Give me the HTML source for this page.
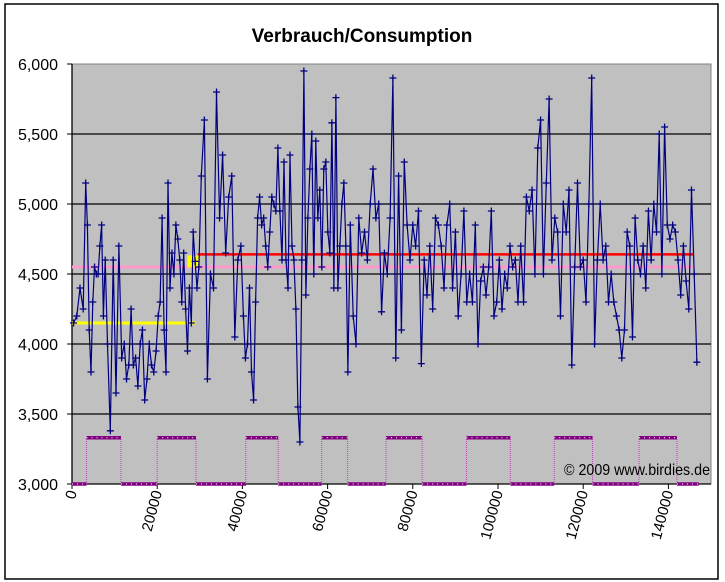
<!DOCTYPE html>
<html><head><meta charset="utf-8"><style>
body{margin:0;background:#fff;}
svg{display:block;font-family:"Liberation Sans",Arial,sans-serif;}
</style></head><body>
<svg id="c" width="725" height="582" xmlns="http://www.w3.org/2000/svg">
<rect x="5" y="4" width="713" height="575" fill="#fff" stroke="#000" stroke-width="1.5"/>
<text x="362" y="42" text-anchor="middle" font-size="19" font-weight="bold">Verbrauch/Consumption</text>
<rect x="72" y="64" width="639" height="420" fill="#c0c0c0" stroke="#808080" stroke-width="1"/>
<g id="grid"></g><g id="yt"></g><g id="xt"></g><g id="ref"></g><g id="wave"></g><g id="ser"></g>
<text x="710" y="475" text-anchor="end" font-size="16" textLength="146" lengthAdjust="spacingAndGlyphs">© 2009 www.birdies.de</text>
</svg>
<script>
const yTicks=[3000,3500,4000,4500,5000,5500,6000];
const xTicks=[0,20000,40000,60000,80000,100000,120000,140000];
// consumption series: segment ranges (km) and readings
const segStart=[0,3000,8000,12000,20000,26000,30000,40000,50000,57000,65000,75000,85000,95000,105000,115000,125000,135000];
const segEnd=[3000,8000,12000,20000,26000,30000,40000,50000,57000,65000,75000,85000,95000,105000,115000,125000,135000,147000];
const segValues=[
[4150,4200,4400,4250],
[5150,4850,4100,3800,4300,4550,4500,4500,4700,4850,4200,4600],
[4000,3380,4600,3650,4700,3900],
[4000,3750,3850,4250,3850,3900,3700,4000,4100,3600,3750,4000,3850,3800,3950],
[4200,4300,4900,4100,3800,5150,4400,4650,4500,4850,4750,4600,4300],
[4650,4250,3950,4400,4150,4800,4590,4400,4550],
[5200,5600,3750,4500,4400,5800,4900,5350,4650,5050,5200,4050,4600,4700],
[4200,3900,4000,4400,3800,3600,4300,4900,5050,4850,4900,4700,4550,4800,5050,5000,4950,5400,4950,4600,5300],
[4600,4400,5350,4700,4600,4250,3550,3300,4600,5950,4350,4900,5250,5500,4500],
[5450,4900,5100,4550,5250,5300,4800,4650,5580,4400,5760,4400,4700,5000,5150,4700,3800],
[4850,4200,4000,4900,4650,4800,4600,5000,5250,4900,5000,4230,4650,4500,4900],
[5900,3900,5200,4100,5300,4850,4600,4850,4700,4950,3860,4600,4350,4700,4250],
[4900,4850,4700,4400,4850,5000,4400,4800,4200,4500,4950,4300,4500,4300,4850],
[4000,4450,4550,4350,4550,4950,4200,4300,4600,4250,4500,4400,4700,4550,4600,4300],
[4700,4300,5050,4950,5100,4500,5400,5600,4500,5150,5750,4600,4900,4800,4200],
[5000,4800,5100,3850,4550,5150,4550,4600,4300,5000,5900,4000,4600,5000,4600],
[4700,4300,4500,4300,4200,4100,3900,4100,4800,4700,4050,4900,4600,4500,4700,4400],
[4950,4600,5000,4800,5500,4500,5550,4850,4750,4850,4800,4600,4350,4700,4450,4250,5100,4500,3870]
];
// season indicator square wave: change points (km) and levels
const waveX=[0,3400,11500,20000,29100,40800,48400,58600,64700,73700,82200,92600,102900,113200,122200,133100,142000,147100];
const waveLevel=[3000,3330,3000,3330,3000,3330,3000,3330,3000,3330,3000,3330,3000,3330,3000,3330,3000];
// reference lines: [startKm, endKm, value]
const avgWinter=[0,29000,4150];
const avgAll=[0,146000,4550];
const avgNew=[29500,146000,4640];
const marker=[28500,4590];

const NS="http://www.w3.org/2000/svg";
const X=v=>72+(v/150000)*639, Y=v=>484-(v-3000)/3000*420;
function mk(t,a,p){const e=document.createElementNS(NS,t);for(const k in a)e.setAttribute(k,a[k]);document.getElementById(p).appendChild(e);return e;}
yTicks.forEach(t=>{
 if(t>3000&&t<6000){const g=mk('line',{x1:72,x2:711,y1:Y(t),y2:Y(t),stroke:'#000','stroke-width':1.3},'grid');
 
 }
 mk('line',{x1:67,x2:72,y1:Y(t),y2:Y(t),stroke:'#000'},'yt');
 const l=mk('text',{x:58,y:Y(t)+6,'text-anchor':'end','font-size':16},'yt');l.textContent=t.toLocaleString('en-US');
 
 
});
mk('line',{x1:72,x2:72,y1:64,y2:484,stroke:'#000','stroke-width':1.3},'yt');
mk('line',{x1:72,x2:711,y1:484,y2:484,stroke:'#000','stroke-width':1.3},'xt');
xTicks.forEach(t=>{
 mk('line',{x1:X(t),x2:X(t),y1:484,y2:489,stroke:'#000'},'xt');
 const l=mk('text',{x:0,y:0,'text-anchor':'end','font-size':15,transform:`translate(${X(t)+5},${492}) rotate(-75)`},'xt');l.textContent=t;
 
 
});
// reference lines
[[avgAll,'#ff99cc',3,'overall-average-line'],[avgWinter,'#ffff00',3,'first-period-average-line'],[avgNew,'#ff0000',2.5,'second-period-average-line']].forEach(r=>{
 const e=mk('line',{x1:X(r[0][0]),x2:X(r[0][1]),y1:Y(r[0][2]),y2:Y(r[0][2]),stroke:r[1],'stroke-width':r[2]},'ref');
 
 
});
const mq=mk('rect',{x:X(marker[0])-6,y:Y(marker[1])-6,width:12,height:12,fill:'#ffff00'},'ref');


// square wave
for(let i=0;i<waveLevel.length;i++){
 const h=mk('line',{x1:X(waveX[i]),x2:X(waveX[i+1]),y1:Y(waveLevel[i]),y2:Y(waveLevel[i]),stroke:'#800080','stroke-width':3.5},'wave');
 
 
 mk('line',{x1:X(waveX[i]),x2:X(waveX[i+1]),y1:Y(waveLevel[i]),y2:Y(waveLevel[i]),stroke:'#fff','stroke-width':1,'stroke-dasharray':'1 4'},'wave');
 if(i<waveLevel.length-1){mk('line',{x1:X(waveX[i+1]),x2:X(waveX[i+1]),y1:Y(3000),y2:Y(3330),stroke:'#c040c0','stroke-width':1,'stroke-dasharray':'1 1'},'wave');}
}
// series
const pts=[];
segValues.forEach((vals,s)=>{const n=vals.length;vals.forEach((v,i)=>pts.push([segStart[s]+(segEnd[s]-segStart[s])*(i+0.5)/n,v]));});
const pl=mk('polyline',{points:pts.map(p=>X(p[0]).toFixed(1)+','+Y(p[1]).toFixed(1)).join(' '),fill:'none',stroke:'#000080','stroke-width':1.2},'ser');


pts.forEach(p=>{const x=X(p[0]),y=Y(p[1]);
 const m=mk('path',{d:`M${x-3.5} ${y}H${x+3.5}M${x} ${y-3.5}V${y+3.5}`,stroke:'#000080','stroke-width':1.3},'ser');
 
 
});
</script>
</body></html>
